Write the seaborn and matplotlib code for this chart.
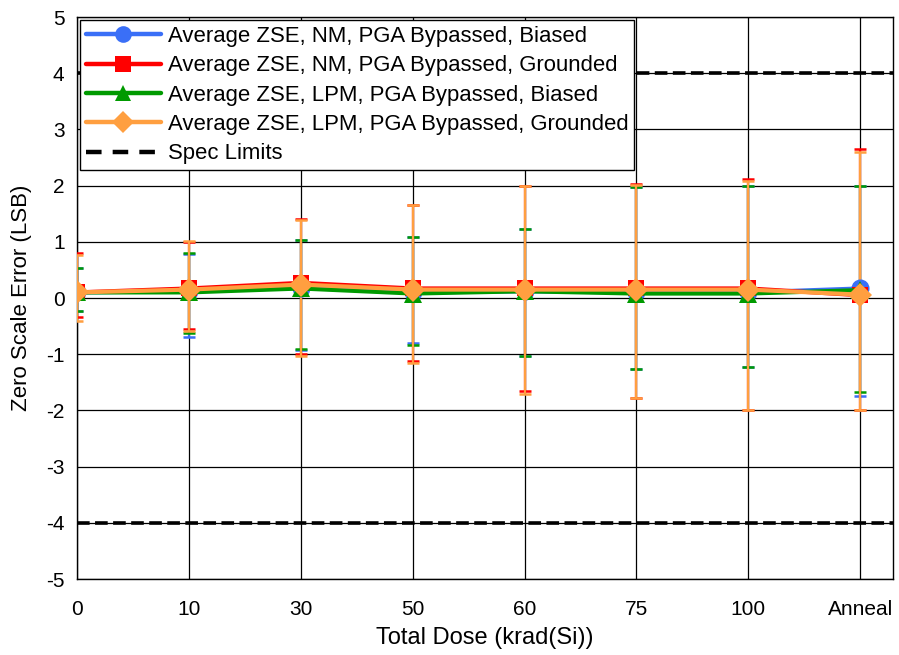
import numpy as np
import pandas as pd
import matplotlib
matplotlib.use("Agg")
import matplotlib.pyplot as plt
import seaborn as sns
from matplotlib.lines import Line2D

categories = ["0", "10", "30", "50", "60", "75", "100", "Anneal"]
series_names = [
    "Average ZSE, NM, PGA Bypassed, Biased",
    "Average ZSE, NM, PGA Bypassed, Grounded",
    "Average ZSE, LPM, PGA Bypassed, Biased",
    "Average ZSE, LPM, PGA Bypassed, Grounded",
]
nm_biased = [0.10, 0.12, 0.18, 0.10, 0.12, 0.10, 0.10, 0.17]
nm_grounded = [0.10, 0.17, 0.27, 0.17, 0.17, 0.17, 0.17, 0.05]
lpm_biased = [0.10, 0.10, 0.17, 0.08, 0.12, 0.08, 0.08, 0.14]
lpm_grounded = [0.10, 0.15, 0.24, 0.15, 0.15, 0.15, 0.15, 0.06]

nm_biased_hi = [0.54, 0.79, 1.04, 1.08, 1.23, 1.97, 1.99, 1.99]
nm_biased_lo = [-0.23, -0.70, -0.93, -0.80, -1.04, -1.26, -1.23, -1.74]
nm_grounded_hi = [0.81, 1.00, 1.41, 1.66, 1.99, 2.03, 2.11, 2.65]
nm_grounded_lo = [-0.34, -0.56, -1.00, -1.12, -1.65, -1.78, -2.00, -2.00]
lpm_biased_hi = [0.54, 0.81, 1.04, 1.08, 1.23, 1.97, 1.99, 1.99]
lpm_biased_lo = [-0.23, -0.63, -0.91, -0.83, -1.04, -1.26, -1.23, -1.68]
lpm_grounded_hi = [0.77, 1.02, 1.38, 1.66, 1.99, 2.01, 2.08, 2.59]
lpm_grounded_lo = [-0.40, -0.59, -1.03, -1.15, -1.71, -1.78, -2.00, -2.00]

spec_limits = [4, -4]

colors = ["#3A6FF7", "#FF0000", "#009A00", "#FF9F40"]
markers = ["o", "s", "^", "D"]
msizes = [13, 12, 13, 12]

means = [nm_biased, nm_grounded, lpm_biased, lpm_grounded]
his = [nm_biased_hi, nm_grounded_hi, lpm_biased_hi, lpm_grounded_hi]
los = [nm_biased_lo, nm_grounded_lo, lpm_biased_lo, lpm_grounded_lo]

sns.set_style("white", {"text.color": "black", "axes.labelcolor": "black",
                        "xtick.color": "black", "ytick.color": "black"})
plt.rcParams["font.family"] = ["Liberation Sans", "DejaVu Sans"]
plt.rcParams["axes.unicode_minus"] = False

fig = plt.figure(figsize=(8.99, 6.55), dpi=100)
ax = fig.add_axes([0.0857, 0.116, 0.9073, 0.858])

pos = np.arange(len(categories))
rows = []
for name, m in zip(series_names, means):
    for p, v in zip(pos, m):
        rows.append({"pos": p, "val": v, "series": name})
df = pd.DataFrame(rows)

# error bars
for m, hi, lo, c in zip(means, his, los, colors):
    m = np.array(m); hi = np.array(hi); lo = np.array(lo)
    ax.errorbar(pos, m, yerr=[m - lo, hi - m], fmt="none", ecolor=c,
                elinewidth=1.6, capsize=4.3, capthick=1.8, zorder=3)

for name, c, mk, ms in zip(series_names, colors, markers, msizes):
    sub = df[df["series"] == name]
    sns.lineplot(data=sub, x="pos", y="val", ax=ax, color=c, marker=mk,
                 markersize=ms, markeredgewidth=0,
                 linewidth=3, zorder=4, legend=False)

for s in spec_limits:
    ax.axhline(s, color="black", linestyle=(0, (3.5, 1.5)), linewidth=2.6, zorder=2)

ax.set_xlim(0, 7.29)
ax.set_ylim(-5, 5)
ax.set_xticks(pos)
ax.set_xticklabels(categories)
ax.set_yticks(np.arange(-5, 6, 1))
ax.grid(True, color="black", linewidth=0.9)
ax.set_axisbelow(True)
for sp in ax.spines.values():
    sp.set_color("black")
    sp.set_linewidth(1)
ax.tick_params(axis="y", labelsize=15, length=0, pad=9, labelcolor="black")
ax.tick_params(axis="x", labelsize=15, length=0, pad=15, labelcolor="black")
ax.set_xlabel("Total Dose (krad(Si))", fontsize=17, labelpad=6, color="black")
ax.set_ylabel("Zero Scale Error (LSB)", fontsize=16, labelpad=10, color="black")

handles = [Line2D([0], [0], color=c, marker=mk, markersize=ms - 1, linewidth=3.2,
                  markeredgewidth=0) for c, mk, ms in zip(colors, markers, msizes)]
handles.append(Line2D([0], [0], color="black", linestyle=(0, (3.5, 2.5)), linewidth=3.2))
leg = ax.legend(handles, series_names + ["Spec Limits"], loc="upper left",
                fontsize=15.9, frameon=True, fancybox=False, framealpha=1,
                edgecolor="black", borderaxespad=0.15, handlelength=3.4,
                handletextpad=0.3, labelspacing=0.38, borderpad=0.25)
leg.get_frame().set_linewidth(1)
for t in leg.get_texts():
    t.set_color("black")

fig.savefig("out.png", dpi=100)
